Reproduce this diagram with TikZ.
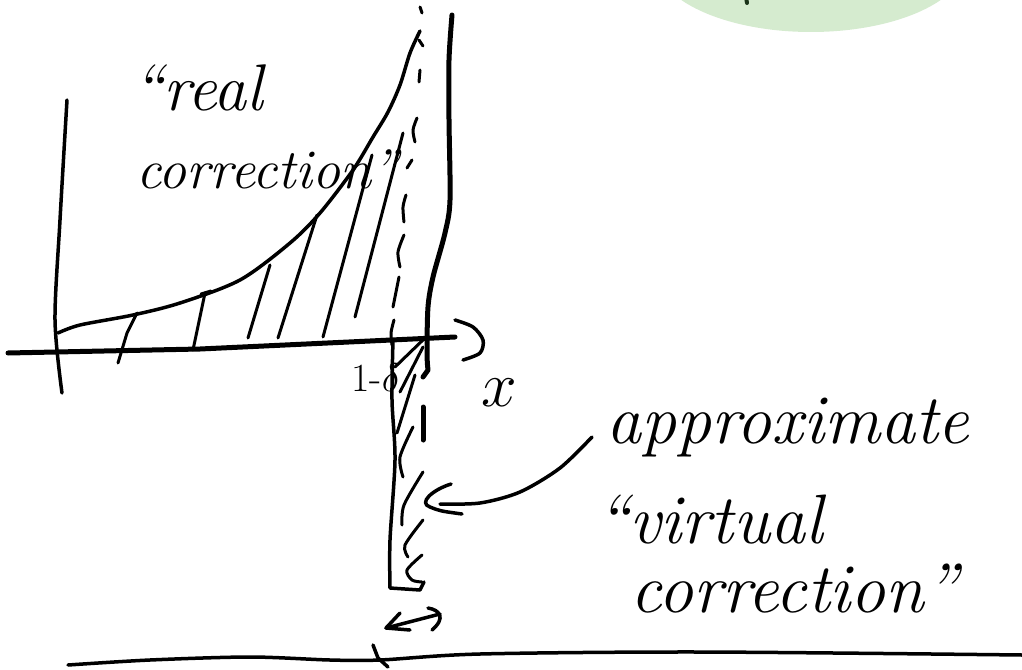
\RequirePackage{fix-cm}
\documentclass[tikz,border=0pt]{standalone}
\usepackage{fontspec}
\definecolor{blobgreen}{HTML}{D5EBCF}
\definecolor{inkgreen}{HTML}{1A3318}
\begin{document}
\begin{tikzpicture}[x=1pt,y=-1pt,
  pen/.style={line width=3.5pt,line cap=round,line join=round},
  heavy/.style={line width=5pt,line cap=round,line join=round},
  hatchline/.style={line width=3pt,line cap=round,line join=round},
  dashpiece/.style={line width=3pt,line cap=round},
  lbl/.style={font=\fontsize{70}{76}\selectfont\itshape, inner sep=0pt, anchor=base west},
  lblsmall/.style={font=\fontsize{56}{62}\selectfont\itshape, inner sep=0pt, anchor=base west}]
\useasboundingbox (0,0) rectangle (1022,669);
\begin{scope}
\clip (0,0) rectangle (1022,669);
% green blob
\fill[blobgreen] (811,-40) ellipse [x radius=156, y radius=72];
\draw[inkgreen, line width=4pt, line cap=round] (746,-3) -- (747,3);

% left vertical axis
\draw[pen] plot[smooth] coordinates {(67,100) (60,220) (55,320) (62,393)};
% x axis
\draw[heavy] (8,353) -- (200,349) -- (455,337);
\draw[pen] plot[smooth] coordinates {(455,320) (473,327) (483,340) (480,353) (463,360)};

% real correction curve
\draw[pen] plot[smooth] coordinates {(58,333) (80,325) (133,315) (180,303) (240,280) (290,243) (320,213) (353,170) (373,137) (388,112) (400,85) (410,53) (420,31)};

% hatching under the curve
\draw[hatchline] (118,363) -- (127,333) -- (137,313);
\draw[hatchline] (193,350) -- (205,293);
\draw[hatchline] (201,294) -- (211,291);
\draw[hatchline] (248,338) -- (270,265);
\draw[hatchline] (278,338) -- (317,215);
\draw[hatchline] (323,337) -- (372,155);
\draw[hatchline] (355,317) -- (403,133);

% dashed vertical line
\draw[dashpiece] (420,7) -- (422,13);
\draw[dashpiece] (419,40) -- (423,46);
\draw[dashpiece] (420,70) -- (419,82);
\draw[dashpiece] plot[smooth] coordinates {(417,118) (413,130) (415,142)};
\draw[dashpiece] (412,160) -- (407,168);
\draw[dashpiece] plot[smooth] coordinates {(406,195) (403,207) (404,222)};
\draw[dashpiece] plot[smooth] coordinates {(404,235) (398,252) (400,267)};
\draw[dashpiece] (399,277) -- (393,307);
\draw[dashpiece] plot[smooth] coordinates {(394,320) (391,333) (392,345)};

% thick right boundary
\draw[heavy] plot[smooth] coordinates {(452,15) (449,60) (449,120) (450,200) (445,233) (433,277) (428,307) (427,353) (428,370)} -- (423,377);

% virtual strip
\draw[pen] plot[smooth] coordinates {(393,340) (392,400) (395,460) (390,540) (390,588)} -- (420,590) -- (424,582);
\draw[hatchline] (425,338) -- (395,367);
\draw[hatchline] (423,347) -- (400,392);
\draw[hatchline] (415,375) -- (397,433);
\draw[hatchline] plot[smooth] coordinates {(413,427) (400,457) (403,477)};
\draw[heavy] (423,407) -- (423,440);
\draw[hatchline] plot[smooth] coordinates {(423,472) (404,505) (402,525)};
\draw[hatchline] plot[smooth] coordinates {(423,520) (405,545) (408,557)};
\draw[hatchline] plot[smooth] coordinates {(422,555) (407,570) (412,580) (422,582)};

% arrow from label to strip
\coordinate (arrstart) at (592,437);
\coordinate (arrtip) at (440,504);
\draw[pen] plot[smooth] coordinates {(arrstart) (560,468) (520,492) (480,503) (arrtip)};
\draw[pen] (451,484) .. controls (432,490) and (418,503) .. (430,507) .. controls (440,511) .. (462,514);

% double arrow (width)
\draw[pen] (386,628) -- (440,614);
\draw[pen] (400,613) -- (386,628) -- (410,630);
\draw[pen] (428,608) .. controls (440,610) and (446,618) .. (432,630);

% bottom line
\draw[pen] plot[smooth] coordinates {(68,665) (150,660) (250,657) (330,660) (380,660) (480,654) (700,652) (1022,655)};
\draw[pen] (373,645) -- (378,658) -- (388,667);

% labels
\node[font=\fontsize{66}{72}\selectfont\itshape, inner sep=0pt, anchor=base west] (real) at (132,110) {``real};
\node[lblsmall] (corr1) at (136,188) {correction''};
\node[lbl] (approx) at (606,443) {approximate};
\node[lbl] (virt) at (596,543) {``virtual};
\node[lbl] (corr2) at (630,612) {correction''};
\node[font=\fontsize{40}{44}\selectfont, inner sep=0pt, anchor=base east] (delta) at (401,391) {1-$\delta$};
\node[font=\fontsize{64}{70}\selectfont, inner sep=0pt] (xlab) at (499,393) {$x$};
\end{scope}
\end{tikzpicture}
\end{document}
